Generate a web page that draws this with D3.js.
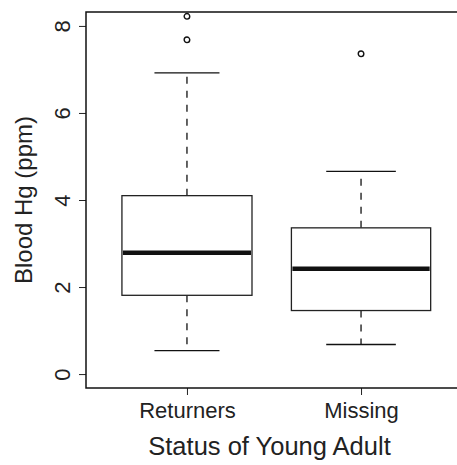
<!DOCTYPE html>
<html>
<head>
<meta charset="utf-8">
<script src="https://cdn.jsdelivr.net/npm/d3@7"></script>
<style>
  body { margin: 0; background: #fff; }
  svg { display: block; font-family: "Liberation Sans", Arial, Helvetica, sans-serif; }
  .frame { fill: none; stroke: #111; stroke-width: 1.5; }
  .box { fill: #fff; stroke: #222; stroke-width: 1.3; }
  .median { stroke: #111; stroke-width: 4.5; }
  .whisker { stroke: #111; stroke-width: 1.3; stroke-dasharray: 7, 7; }
  .staple { stroke: #111; stroke-width: 1.3; }
  .outlier { fill: none; stroke: #111; stroke-width: 1.4; }
  .axis path.domain { display: none; }
  .axis line { stroke: #222; stroke-width: 1; }
  .axis text { fill: #222; font-size: 22px; font-family: "Liberation Sans", Arial, sans-serif; }
  .title { fill: #222; font-size: 24px; }
  .x-title { font-size: 25.5px; }
</style>
</head>
<body>
<svg width="457" height="465"></svg>
<script>
// data
const groups = ['Returners', 'Missing'];
const lowerWhisker = [0.54, 0.68];
const lowerQuartile = [1.81, 1.46];
const medians = [2.79, 2.42];
const upperQuartile = [4.10, 3.36];
const upperWhisker = [6.92, 4.66];
const outliers = [[8.22, 7.68], [7.36]];
const relWidth = [0.934, 1]; // varwidth, ~sqrt(n)
const yTicks = [0, 2, 4, 6, 8];

const svg = d3.select('svg');

// plot region (right edge runs past the picture, as in the reference)
const margin = {top: 12, left: 86},
    width = 376,
    height = 376;

const g = svg.append('g')
  .attr('transform', 'translate(' + margin.left + ',' + margin.top + ')');

const x = d3.scalePoint()
    .domain(groups)
    .range([0, width])
    .padding(0.58);

// ylim c(0, 8) with R's 4% extension
const y = d3.scaleLinear()
    .domain([-0.32, 8.32])
    .range([height, 0]);

const boxW = (i) => 0.8 * x.step() * relWidth[i];

const data = groups.map((name, i) => ({
  name: name,
  lo: lowerWhisker[i],
  q1: lowerQuartile[i],
  med: medians[i],
  q3: upperQuartile[i],
  hi: upperWhisker[i],
  out: outliers[i],
  w: boxW(i)
}));

const boxes = g.selectAll('.group')
  .data(data)
  .enter()
  .append('g')
  .attr('class', 'group')
  .attr('transform', function(d) { return 'translate(' + x(d.name) + ',0)'; });

// whiskers
boxes.append('line')
  .attr('class', 'whisker')
  .attr('x1', 0).attr('x2', 0)
  .attr('y1', function(d) { return y(d.q3); })
  .attr('y2', function(d) { return y(d.hi); });

boxes.append('line')
  .attr('class', 'whisker')
  .attr('x1', 0).attr('x2', 0)
  .attr('y1', function(d) { return y(d.q1); })
  .attr('y2', function(d) { return y(d.lo); });

// staples
boxes.selectAll('.staple')
  .data(function(d) { return [d.lo, d.hi].map((v) => ({v: v, w: d.w})); })
  .enter()
  .append('line')
  .attr('class', 'staple')
  .attr('x1', function(d) { return -d.w / 4; })
  .attr('x2', function(d) { return d.w / 4; })
  .attr('y1', function(d) { return y(d.v); })
  .attr('y2', function(d) { return y(d.v); });

// box
boxes.append('rect')
  .attr('class', 'box')
  .attr('x', function(d) { return -d.w / 2; })
  .attr('width', function(d) { return d.w; })
  .attr('y', function(d) { return y(d.q3); })
  .attr('height', function(d) { return y(d.q1) - y(d.q3); });

// median
boxes.append('line')
  .attr('class', 'median')
  .attr('x1', function(d) { return -d.w / 2 + 1; })
  .attr('x2', function(d) { return d.w / 2 - 1; })
  .attr('y1', function(d) { return y(d.med); })
  .attr('y2', function(d) { return y(d.med); });

// outliers
boxes.selectAll('.outlier')
  .data(function(d) { return d.out; })
  .enter()
  .append('circle')
  .attr('class', 'outlier')
  .attr('cx', 0)
  .attr('cy', function(d) { return y(d); })
  .attr('r', 2.8);

// axes
const yAxis = d3.axisLeft(y)
  .tickValues(yTicks)
  .tickSize(7)
  .tickFormat(d3.format('d'));

g.append('g')
  .attr('class', 'y axis')
  .call(yAxis)
  .selectAll('text')
  .attr('x', 0)
  .attr('y', -16.5)
  .attr('dy', 0)
  .attr('text-anchor', 'middle')
  .attr('transform', 'rotate(-90)');

g.append('g')
  .attr('class', 'x axis')
  .attr('transform', 'translate(0,' + height + ')')
  .call(d3.axisBottom(x).tickSize(7))
  .selectAll('text')
  .attr('y', 30)
  .attr('dy', 0);

// frame
g.append('rect')
  .attr('class', 'frame')
  .attr('width', width)
  .attr('height', height);

// titles
g.append('text')
  .attr('class', 'title x-title')
  .attr('text-anchor', 'middle')
  .attr('x', width / 2 - 4.5)
  .attr('y', height + 67)
  .text('Status of Young Adult');

g.append('text')
  .attr('class', 'title')
  .attr('text-anchor', 'middle')
  .attr('transform', 'translate(' + (32 - margin.left) + ',' + (height / 2) + ') rotate(-90)')
  .text('Blood Hg (ppm)');
</script>
</body>
</html>
